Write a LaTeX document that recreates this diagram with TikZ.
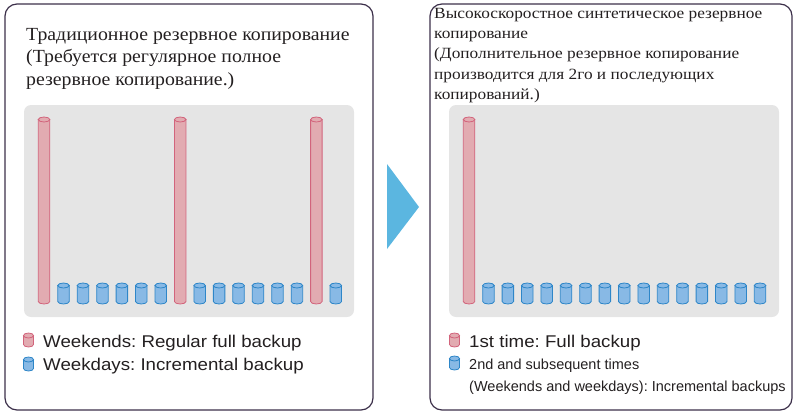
\documentclass[tikz,border=0pt]{standalone}
\usepackage{fontspec}
\setmainfont{Liberation Serif}
\setsansfont{Liberation Sans}
\newfontfamily\titlewide[FakeStretch=1.07]{Liberation Serif}
\newfontfamily\titlewider[FakeStretch=1.11]{Liberation Serif}
\newfontfamily\legwide[FakeStretch=1.1]{Liberation Sans}
\frenchspacing
\definecolor{frame}{HTML}{3C2F4A}
\definecolor{panel}{HTML}{E5E5E5}
\definecolor{redfill}{HTML}{E2ABB1}
\definecolor{redline}{HTML}{D2647C}
\definecolor{bluefill}{HTML}{88B9E5}
\definecolor{blueline}{HTML}{2E86C8}
\definecolor{arrowc}{HTML}{5BB6E0}
\definecolor{txt}{HTML}{231F20}
\tikzset{
  boxframe/.style={draw=frame, line width=1.2pt, rounded corners=12pt},
  panelbox/.style={fill=panel, rounded corners=7pt},
  bigtitle/.style={anchor=base west, inner sep=0pt, text=txt, font=\titlewide\fontsize{18.5}{22}\selectfont},
  smalltitle/.style={anchor=base west, inner sep=0pt, text=txt, font=\titlewider\fontsize{15.6}{20}\selectfont},
  legendtext/.style={anchor=base west, inner sep=0pt, text=txt, font=\legwide\fontsize{17}{22}\selectfont},
  legendsmall/.style={anchor=base west, inner sep=0pt, text=txt, font=\sffamily\fontsize{14.5}{20}\selectfont},
}
% #1 left x, #2 top y, #3 bottom y, #4 fill, #5 line, #6 width, #7 half ellipse height
\newcommand\mycyl[7]{%
  \filldraw[fill=#4, draw=#5, line width=0.8pt]
    ({#1},{#2+#7}) -- ({#1},{#3-#7})
    arc[start angle=180, end angle=360, x radius={#6/2*1pt}, y radius={#7*1pt}]
    -- ({#1+#6},{#2+#7}) -- cycle;
  \filldraw[fill=#4, draw=#5, line width=0.8pt]
    ({#1+#6/2},{#2+#7}) ellipse[x radius={#6/2*1pt}, y radius={#7*1pt}];
}
\begin{document}
\begin{tikzpicture}[x=1pt, y=-1pt]
\useasboundingbox (0,0) rectangle (794,412);
% frames
\draw[boxframe] (5,4) rectangle (373,410);
\draw[boxframe] (430,4) rectangle (792,410);
% panels
\fill[panelbox] (24,105) rectangle (354,317);
\fill[panelbox] (449,105) rectangle (779,317);
% arrow
\fill[arrowc] (387,164) -- (419,207) -- (387,249) -- cycle;
% titles
\node[bigtitle] (t1) at (26,41) {Традиционное резервное копирование};
\node[bigtitle] (t2) at (26,63) {(Требуется регулярное полное};
\node[bigtitle] (t3) at (26,85) {резервное копирование.)};
\node[smalltitle] (s1) at (434,19) {Высокоскоростное синтетическое резервное};
\node[smalltitle] (s2) at (434,39) {копирование};
\node[smalltitle] (s3) at (434,59) {(Дополнительное резервное копирование};
\node[smalltitle] (s4) at (434,79) {производится для 2го и последующих};
\node[smalltitle] (s5) at (434,99) {копирований.)};
% left cylinders
\foreach \i in {0,...,15}{
  \pgfmathsetmacro\xx{38.3+\i*19.45}
  \ifnum\i=0 \mycyl{\xx}{117}{304}{redfill}{redline}{11.5}{2.5}
  \else\ifnum\i=7 \mycyl{\xx}{117}{304}{redfill}{redline}{11.5}{2.5}
  \else\ifnum\i=14 \mycyl{\xx}{117}{304}{redfill}{redline}{11.5}{2.5}
  \else \mycyl{\xx}{283}{304}{bluefill}{blueline}{11.5}{2.5}
  \fi\fi\fi
}
% right cylinders
\foreach \i in {0,...,15}{
  \pgfmathsetmacro\xx{463.3+\i*19.4}
  \ifnum\i=0 \mycyl{\xx}{117}{304}{redfill}{redline}{11.5}{2.5}
  \else \mycyl{\xx}{283}{304}{bluefill}{blueline}{11.5}{2.5}
  \fi
}
% legends left
\mycyl{23.5}{333}{347}{redfill}{redline}{10}{2.5}
\mycyl{23.5}{357}{371}{bluefill}{blueline}{10}{2.5}
\node[legendtext] (l1) at (43,347) {Weekends: Regular full backup};
\node[legendtext] (l2) at (43,370) {Weekdays: Incremental backup};
% legends right
\mycyl{449.5}{333}{347}{redfill}{redline}{10}{2.5}
\mycyl{449.5}{356}{370}{bluefill}{blueline}{10}{2.5}
\node[legendtext] (r1) at (469,347) {1st time: Full backup};
\node[legendsmall] (r2) at (469,369) {2nd and subsequent times};
\node[legendsmall] (r3) at (469,391) {(Weekends and weekdays): Incremental backups};
\end{tikzpicture}
\end{document}
